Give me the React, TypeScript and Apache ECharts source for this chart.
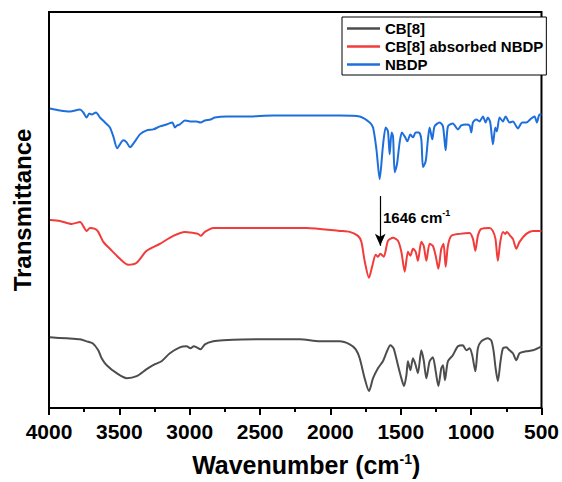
import React, { useEffect, useRef } from "react";
import * as echarts from "echarts";

// FTIR spectra, wavenumber (cm-1) vs. transmittance (arbitrary, stacked offsets)
const cb8Wn = [3993, 3874, 3780, 3732, 3690, 3650, 3626, 3590, 3519, 3448, 3377, 3306, 3247, 3200, 3141, 3070, 3022, 2994, 2971, 2951, 2923, 2892, 2833, 2762, 2525, 2218, 2076, 1934, 1863, 1820, 1792, 1757, 1726, 1697, 1662, 1627, 1598, 1574, 1551, 1520, 1496, 1477, 1460, 1449, 1432, 1413, 1396, 1378, 1354, 1337, 1318, 1295, 1272, 1252, 1233, 1212, 1200, 1186, 1165, 1130, 1094, 1059, 1034, 1011, 992, 970, 952, 928, 881, 857, 840, 826, 810, 791, 774, 750, 727, 703, 679, 656, 608, 561, 500];
const cb8T = [71, 70, 69, 67, 65, 58, 50, 43, 35, 30, 32, 39, 44, 47, 55, 61, 62, 60, 62, 61, 59, 64, 67, 68, 69, 69, 67, 67, 64, 59, 50, 30, 17, 30, 40, 47, 57, 63, 60, 43, 30, 22, 33, 47, 38, 50, 44, 35, 58, 48, 30, 47, 51, 37, 22, 40, 43, 28, 47, 53, 62, 63, 58, 60, 53, 37, 60, 67, 70, 68, 57, 40, 27, 47, 60, 61, 58, 55, 48, 55, 57, 58, 62];

const loadedWn = [3993, 3922, 3839, 3780, 3732, 3709, 3673, 3650, 3614, 3567, 3496, 3437, 3377, 3306, 3212, 3117, 3034, 2975, 2940, 2921, 2892, 2833, 2644, 2407, 2170, 1934, 1863, 1804, 1780, 1757, 1726, 1702, 1678, 1662, 1645, 1621, 1591, 1555, 1520, 1496, 1472, 1449, 1432, 1413, 1394, 1378, 1354, 1337, 1318, 1295, 1272, 1252, 1233, 1212, 1196, 1181, 1165, 1141, 1082, 1011, 987, 970, 952, 928, 869, 846, 827, 810, 793, 774, 757, 746, 722, 703, 679, 656, 608, 561, 500];
const loadedT = [189, 188, 185, 187, 178, 181, 180, 177, 167, 160, 150, 144, 146, 158, 165, 173, 177, 176, 175, 173, 177, 181, 181, 181, 181, 178, 177, 173, 167, 148, 131, 143, 154, 152, 155, 152, 168, 171, 168, 157, 137, 157, 153, 160, 157, 148, 167, 163, 148, 165, 163, 153, 140, 160, 165, 142, 163, 173, 175, 176, 170, 158, 173, 180, 181, 178, 170, 148, 167, 177, 175, 177, 173, 170, 160, 167, 175, 178, 178];

const nbdpWn = [3993, 3922, 3851, 3780, 3756, 3732, 3714, 3697, 3666, 3638, 3602, 3567, 3543, 3515, 3496, 3472, 3448, 3425, 3389, 3354, 3306, 3259, 3212, 3164, 3124, 3105, 3089, 3070, 3034, 2987, 2951, 2923, 2892, 2852, 2821, 2738, 2596, 2407, 2218, 1934, 1792, 1721, 1697, 1673, 1650, 1627, 1607, 1591, 1579, 1565, 1555, 1543, 1527, 1508, 1492, 1472, 1453, 1432, 1413, 1394, 1371, 1354, 1342, 1323, 1307, 1295, 1276, 1260, 1224, 1200, 1181, 1165, 1130, 1094, 1070, 1034, 1011, 999, 987, 963, 940, 916, 897, 881, 864, 845, 828, 817, 798, 774, 755, 727, 703, 668, 637, 608, 573, 549, 533, 514, 500];
const nbdpT = [301, 299, 298, 300, 297, 292, 296, 295, 297, 292, 287, 282, 273, 261, 265, 269, 267, 262, 268, 275, 279, 280, 283, 285, 287, 282, 284, 285, 289, 288, 288, 287, 289, 290, 292, 293, 293, 294, 294, 294, 293, 287, 282, 260, 230, 263, 282, 278, 255, 277, 273, 237, 245, 267, 277, 273, 268, 275, 272, 277, 277, 270, 242, 248, 270, 282, 270, 283, 287, 283, 259, 283, 286, 280, 284, 285, 284, 277, 287, 290, 288, 293, 287, 292, 287, 265, 282, 278, 292, 288, 293, 287, 288, 281, 287, 287, 291, 293, 287, 295, 295];

const seriesNames = ["CB[8]", "CB[8] absorbed NBDP", "NBDP"];
const seriesColors = ["#4d4d4d", "#f23b3b", "#1e6fdc"];
const xTicks = { min: 500, max: 4000, step: 500 };

// 1646 cm-1 band marker on the loaded sample
const markerWn = 1646;
const markerFrom = 213;
const markerTo = 163;

const FONT = 'Arial, "Liberation Sans", sans-serif';

const pairs = (xs: number[], ys: number[]) => xs.map((x, i) => [x, ys[i]]);

export default function App() {
  const ref = useRef<HTMLDivElement>(null);

  useEffect(() => {
    if (!ref.current) return;
    const chart = echarts.init(ref.current, undefined, { renderer: "svg" });
    const datasets = [pairs(cb8Wn, cb8T), pairs(loadedWn, loadedT), pairs(nbdpWn, nbdpT)];

    chart.setOption({
      animation: false,
      backgroundColor: "#fff",
      grid: {
        left: 49,
        right: 20,
        top: 12,
        bottom: 72,
        show: true,
        borderColor: "#000",
        borderWidth: 2,
      },
      legend: {
        data: seriesNames,
        orient: "vertical",
        left: 342,
        top: 17,
        icon: "rect",
        itemWidth: 33,
        itemHeight: 2.5,
        itemGap: 1,
        padding: [3, 3, 2, 5],
        borderColor: "#000",
        borderWidth: 1,
        backgroundColor: "#fff",
        textStyle: { fontFamily: FONT, fontWeight: "bold", fontSize: 15, color: "#000", lineHeight: 17 },
      },
      xAxis: {
        type: "value",
        inverse: true,
        min: xTicks.min,
        max: xTicks.max,
        interval: xTicks.step,
        name: "Wavenumber (cm{sup|-1})",
        nameLocation: "middle",
        nameGap: 44,
        nameTextStyle: {
          fontFamily: FONT,
          fontWeight: "bold",
          fontSize: 25,
          color: "#000",
          padding: [0, 0, 0, 22],
          rich: {
            sup: { fontFamily: FONT, fontWeight: "bold", fontSize: 14, color: "#000", verticalAlign: "top", padding: [0, 0, 10, 0] },
          },
        },
        axisLine: { lineStyle: { color: "#000", width: 2 } },
        axisTick: { show: true, length: 7, lineStyle: { color: "#000", width: 2 } },
        minorTick: { show: true, splitNumber: 2, length: 4, lineStyle: { color: "#000", width: 2 } },
        axisLabel: {
          fontFamily: FONT,
          fontWeight: "bold",
          fontSize: 21,
          color: "#000",
          margin: 13,
          formatter: (v: number) => String(v),
        },
        splitLine: { show: false },
      },
      yAxis: {
        type: "value",
        min: 0,
        max: 398,
        name: "Transmittance",
        nameLocation: "middle",
        nameGap: 15,
        nameTextStyle: { fontFamily: FONT, fontWeight: "bold", fontSize: 24, color: "#000" },
        axisLine: { show: true, lineStyle: { color: "#000", width: 2 } },
        axisTick: { show: false },
        axisLabel: { show: false },
        splitLine: { show: false },
      },
      series: seriesNames.map((name, i) => ({
        name,
        type: "line",
        data: datasets[i],
        showSymbol: false,
        smooth: 0.25,
        color: seriesColors[i],
        lineStyle: { width: 2, color: seriesColors[i] },
        z: 3 - i,
        ...(i === 1
          ? {
              markLine: {
                silent: true,
                symbol: ["none", "arrow"],
                symbolSize: [8, 12],
                lineStyle: { color: "#000", width: 1.2, type: "solid" },
                label: { show: false },
                data: [[{ coord: [markerWn, markerFrom] }, { coord: [markerWn, markerTo] }]],
              },
            }
          : {}),
      })),
      graphic: [
        {
          type: "text",
          left: 383,
          top: 208,
          style: {
            text: "{a|1646 cm}{s|-1}",
            rich: {
              a: { fontFamily: FONT, fontWeight: "bold", fontSize: 15, fill: "#000" },
              s: { fontFamily: FONT, fontWeight: "bold", fontSize: 9, fill: "#000", verticalAlign: "top", padding: [0, 0, 9, 0] },
            },
          },
        },
      ],
    });

    return () => chart.dispose();
  }, []);

  return <div ref={ref} style={{ position: "fixed", left: 0, top: 0, width: 562, height: 482 }} />;
}
